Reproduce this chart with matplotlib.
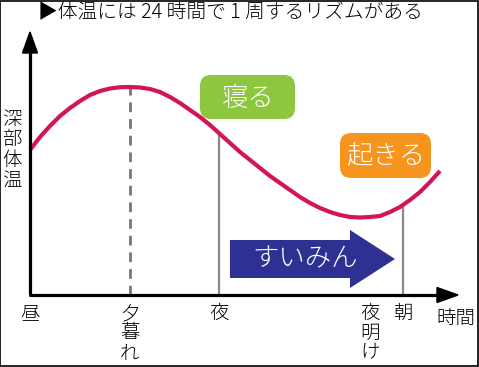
import numpy as np
import matplotlib
matplotlib.use("Agg")
import matplotlib.pyplot as plt
from matplotlib.patches import FancyBboxPatch, Polygon, Rectangle

plt.rcParams['font.family'] = ['Noto Sans CJK JP', 'DejaVu Sans']
plt.rcParams['font.weight'] = 'light'

# ---- data ----
title = "▶体温には 24 時間で 1 周するリズムがある"
y_label = "深部体温"
x_label = "時間"
time = list(range(0, 42))
temp = [14.5, 15.8, 16.9, 17.9, 18.7, 19.4, 20.0, 20.4, 20.65, 20.78, 20.8,
        20.75, 20.6, 20.3, 19.8, 19.2, 18.5, 17.8, 17.0, 16.1, 15.2, 14.3,
        13.5, 12.7, 11.9, 11.2, 10.5, 9.8, 9.2, 8.7, 8.3, 8.0, 7.8, 7.75,
        7.8, 7.9, 8.3, 8.8, 9.5, 10.3, 11.3, 12.4]
tick_pos = [0, 10, 18.9, 34, 37.3]
tick_labels = ["昼", "夕暮れ", "夜", "夜明け", "朝"]
sleep_t, wake_t, dusk_t = 18.9, 37.3, 10
sleep_label, wake_label, arrow_label = "寝る", "起きる", "すいみん"

# ---- figure ----
W, H, DPI = 479, 367, 100
fig = plt.figure(figsize=(W / DPI, H / DPI), dpi=DPI)
ax = fig.add_axes([0, 0, 1, 1])
ax.set_xlim(-3.0, 44.9)
ax.set_ylim(-7.2, 29.5)
ax.axis('off')

curve_col = '#d4145a'
grey = '#8a8a8a'

# reference lines
ax.plot([dusk_t, dusk_t], [0, np.interp(dusk_t, time, temp)], color='#777777',
        lw=2.0, ls=(0, (3.5, 2.5)), zorder=2)
for tv in (sleep_t, wake_t):
    ax.plot([tv, tv], [0, np.interp(tv, time, temp)], color=grey, lw=1.6, zorder=2)

# curve
ax.plot(time, temp, color=curve_col, lw=3.0, solid_capstyle='butt', zorder=4)

# axes with arrows
ax.plot([0, 0], [0, 24.5], color='black', lw=2.3, zorder=5, solid_capstyle='butt')
ax.plot([-0.1, 41.0], [0, 0], color='black', lw=2.3, zorder=5, solid_capstyle='butt')
ax.add_patch(Polygon([[-0.75, 24.2], [0.75, 24.2], [0, 26.3]], closed=True,
                     color='black', zorder=6))
ax.add_patch(Polygon([[40.7, 0.75], [40.7, -0.75], [42.8, 0]], closed=True,
                     color='black', zorder=6))

# labels boxes
ax.add_patch(FancyBboxPatch((17.9, 18.5), 7.7, 2.6,
                            boxstyle="round,pad=0.9,rounding_size=1.1",
                            fc='#8dc63f', ec='none', zorder=6))
ax.text(21.75, 19.75, sleep_label, color='white', fontsize=19,
        ha='center', va='center', zorder=7)
ax.add_patch(FancyBboxPatch((31.9, 12.6), 7.3, 2.7,
                            boxstyle="round,pad=0.9,rounding_size=1.1",
                            fc='#f7941d', ec='none', zorder=6))
ax.text(35.55, 13.9, wake_label, color='white', fontsize=19,
        ha='center', va='center', zorder=7)

# sleep arrow
ax.add_patch(Polygon([[20.0, 5.5], [32.0, 5.5], [32.0, 6.5], [36.5, 3.6],
                      [32.0, 0.7], [32.0, 1.7], [20.0, 1.7]], closed=True,
                     fc='#2e3192', ec='none', zorder=6))
ax.text(27.5, 3.7, arrow_label, color='white', fontsize=19,
        ha='center', va='center', zorder=7)

# tick labels (vertical stacking)
for p, lab in zip(tick_pos, tick_labels):
    ax.text(p, -0.8, "\n".join(lab), fontsize=14, ha='center', va='top',
            linespacing=0.9, zorder=7)
ax.text(42.6, -2.3, x_label, fontsize=14, ha='center', va='center')
ax.text(-1.8, 14.5, "\n".join(y_label), fontsize=14, ha='center', va='center',
        linespacing=0.95)

# title
ax.text(0.8, 28.2, title, fontsize=14.2, ha='left', va='center')

# frame
fig.add_artist(Rectangle((0.001, 0.002), 0.996, 0.996, transform=fig.transFigure,
                         fill=False, ec='black', lw=1.2))

fig.savefig('out.png', dpi=DPI)
